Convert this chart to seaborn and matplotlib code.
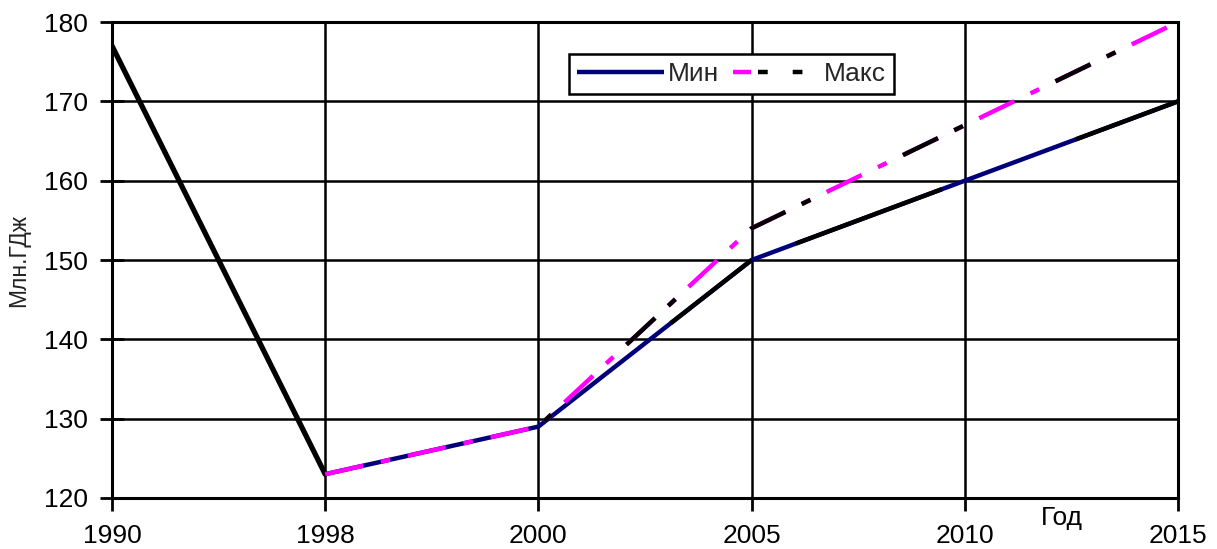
import numpy as np
import pandas as pd
import matplotlib
matplotlib.use("Agg")
import matplotlib.pyplot as plt
import seaborn as sns
from matplotlib.lines import Line2D
from matplotlib.legend_handler import HandlerTuple

# Axis categories and series values
years = ["1990", "1998", "2000", "2005", "2010", "2015"]
hist_years = ["1990", "1998"]
hist_vals = [177, 123]
fc_years = ["1998", "2000", "2005", "2010", "2015"]
min_vals = [123, 129, 150, 160, 170]
max_vals = [123, 129, 154, 167, 180]
y_ticks = [120, 130, 140, 150, 160, 170, 180]

sns.set_style("white")
plt.rcParams["font.family"] = ["Liberation Sans", "DejaVu Sans"]
plt.rcParams["lines.scale_dashes"] = False

NAVY = "#00007a"
PINK = "#ff00ff"
LW = 3.2
FS = 19

pos = {y: i for i, y in enumerate(years)}
hist = pd.DataFrame({"x": [pos[y] for y in hist_years], "v": hist_vals})
fc = pd.DataFrame({"x": [pos[y] for y in fc_years],
                   "lo": min_vals, "hi": max_vals})

fig = plt.figure(figsize=(12.17, 5.49), dpi=100)
ax = fig.add_axes([0.092, 0.0929, 0.876, 0.867])
ax.set_xlim(0, len(years) - 1)
ax.set_ylim(y_ticks[0], y_ticks[-1])

# historical segment
sns.lineplot(data=hist, x="x", y="v", color="black", lw=3.8, ax=ax,
             zorder=4, solid_capstyle="round", solid_joinstyle="round")

# minimum scenario: navy line, partly overdrawn in black after 2000
sns.lineplot(data=fc, x="x", y="lo", color=NAVY, lw=LW, ax=ax, zorder=3,
             solid_joinstyle="round")
sns.lineplot(data=fc.iloc[1:3], x="x", y="lo", color="black", lw=LW, ax=ax,
             zorder=3.5, linestyle=(80, (80, 121)), dash_capstyle="butt")
sns.lineplot(data=fc.iloc[2:], x="x", y="lo", color="black", lw=LW, ax=ax,
             zorder=3.5, linestyle=(181, (112, 103)), dash_capstyle="butt")

# maximum scenario: magenta dash-dot, every other period drawn in black
dash = (28, 13, 7, 13)
period = sum(dash)
sns.lineplot(data=fc, x="x", y="hi", color=PINK, lw=LW, ax=ax, zorder=5,
             linestyle=(0, dash), dash_capstyle="butt")
p0 = ax.transData.transform((fc["x"].iloc[0], fc["hi"].iloc[0]))
p1 = ax.transData.transform((fc["x"].iloc[1], fc["hi"].iloc[1]))
seg_pt = np.hypot(*(p1 - p0)) * 72 / fig.dpi
phase = (seg_pt % period) % (2 * period)
sns.lineplot(data=fc.iloc[1:], x="x", y="hi", color="black", lw=LW, ax=ax,
             zorder=5.5,
             linestyle=(phase, dash[:3] + (dash[3] + period,)),
             dash_capstyle="butt")

# axes, ticks and grid
ax.set_xticks(range(len(years)))
ax.set_xticklabels(years)
ax.set_xticks(np.arange(0.5, len(years) - 1, 1.0), minor=True)
ax.set_yticks(y_ticks)
ax.tick_params(axis="x", which="major", direction="out", length=9, width=2,
               color="black", labelsize=FS, pad=10, labelcolor="black")
ax.tick_params(axis="x", which="minor", direction="out", length=5, width=2,
               color="black")
ax.tick_params(axis="y", direction="inout", length=17, width=2,
               color="black", labelsize=FS, pad=9, labelcolor="black")
ax.tick_params(left=True, bottom=True)
ax.grid(True, which="major", color="black", lw=1.8)
ax.set_axisbelow(True)
for s in ax.spines.values():
    s.set_visible(True)
    s.set_color("black")
    s.set_linewidth(2.2)

ax.set_xlabel("")
ax.set_ylabel("Млн.ГДж", fontsize=16.5, color="#222222", labelpad=10)
ax.text(0.891, -0.042, "Год", transform=ax.transAxes, ha="center",
        va="center", fontsize=FS, color="black")

# legend
h_min = Line2D([], [], color=NAVY, lw=LW, solid_capstyle="butt")
h_max_a = Line2D([], [], color=PINK, lw=LW, linestyle=(0, (13, 200)),
                 dash_capstyle="butt")
h_max_b = Line2D([], [], color="black", lw=LW, linestyle=(7, (7, 18)),
                 dash_capstyle="butt")
leg = ax.legend([h_min, (h_max_a, h_max_b)], ["Мин", "Макс"],
                handler_map={tuple: HandlerTuple(ndivide=1)},
                ncol=2, loc="center", bbox_to_anchor=(0.581, 0.891),
                fontsize=FS, handlelength=3.3, handletextpad=0.15,
                columnspacing=0.5, borderpad=0.3, fancybox=False,
                framealpha=1, edgecolor="black")
leg.get_frame().set_linewidth(1.8)
leg.set_zorder(10)

fig.savefig("out.png", dpi=100, facecolor="white")
